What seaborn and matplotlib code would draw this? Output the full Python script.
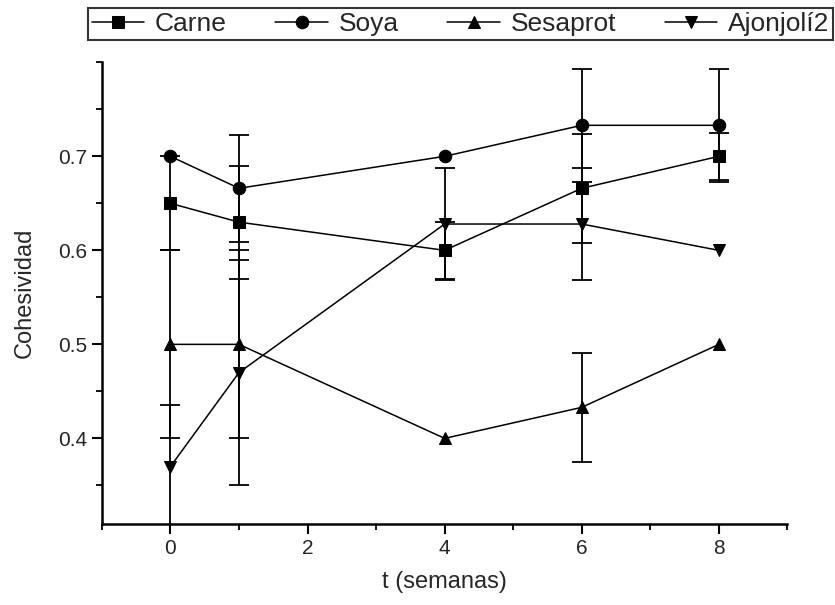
import numpy as np
import pandas as pd
import matplotlib
matplotlib.use('Agg')
import matplotlib.pyplot as plt
from matplotlib.ticker import MultipleLocator
import seaborn as sns

# datos
semanas = [0, 1, 4, 6, 8]
carne = [0.65, 0.63, 0.60, 0.666, 0.70]
carne_err = [0.05, 0.06, 0.03, 0.058, 0.025]
soya = [0.70, 0.666, 0.70, 0.733, 0.733]
soya_err = [0.0, 0.057, 0.0, 0.06, 0.06]
sesaprot = [0.50, 0.50, 0.40, 0.433, 0.50]
sesaprot_err = [0.10, 0.10, 0.0, 0.058, 0.0]
ajonjoli = [0.37, 0.47, 0.628, 0.628, 0.60]
ajonjoli_err = [0.065, 0.12, 0.06, 0.06, 0.0]

series = ['Carne', 'Soya', 'Sesaprot', 'Ajonjolí2']
valores = [carne, soya, sesaprot, ajonjoli]
errores = [carne_err, soya_err, sesaprot_err, ajonjoli_err]
marcadores = {'Carne': 's', 'Soya': 'o', 'Sesaprot': '^', 'Ajonjolí2': 'v'}

df = pd.concat([pd.DataFrame({'t': semanas, 'Cohesividad': v, 'serie': s})
                for s, v in zip(series, valores)], ignore_index=True)

sns.set_style('ticks')
plt.rcParams['font.family'] = ['Liberation Sans Narrow', 'Liberation Sans', 'DejaVu Sans']

fig = plt.figure(figsize=(8.35, 6.05), dpi=100)
ax = fig.add_axes([0.122, 0.134, 0.821, 0.763])

# barras de error (solo donde hay error)
for s, v, e in zip(series, valores, errores):
    idx = [i for i in range(len(e)) if e[i] > 0]
    ax.errorbar([semanas[i] for i in idx], [v[i] for i in idx], yerr=[e[i] for i in idx],
                fmt='none', ecolor='black', elinewidth=1.3, capsize=7, capthick=1.3, zorder=2)

sns.lineplot(data=df, x='t', y='Cohesividad', hue='serie', style='serie',
             palette=['black'] * 4, markers=marcadores, dashes=False,
             markersize=9, markeredgecolor='black', linewidth=1.1, ax=ax, zorder=3)

ax.set_xlim(-1, 9)
ax.set_ylim(0.309, 0.80)
ax.xaxis.set_major_locator(MultipleLocator(2))
ax.xaxis.set_minor_locator(MultipleLocator(1))
ax.set_yticks([0.4, 0.5, 0.6, 0.7])
ax.yaxis.set_minor_locator(MultipleLocator(0.05))
ax.tick_params(axis='both', which='major', length=7, width=1.5, labelsize=15, color='black')
ax.tick_params(axis='both', which='minor', length=4, width=1.3, color='black')
for sp in ['left', 'bottom']:
    ax.spines[sp].set_linewidth(1.8)
    ax.spines[sp].set_color('black')
sns.despine(ax=ax)

ax.set_xlabel('t (semanas)', fontsize=17, labelpad=10)
ax.set_ylabel('Cohesividad', fontsize=17, labelpad=16)

handles, labels = ax.get_legend_handles_labels()
ax.get_legend().remove()
leg = fig.legend(handles, labels, loc='lower left', ncol=4, mode='expand',
                 bbox_to_anchor=(0.105, 0.934, 0.893, 0.061), borderaxespad=0,
                 fancybox=False, frameon=True, fontsize=19, handlelength=2.0,
                 handletextpad=0.4, columnspacing=1.0, borderpad=0.15)
leg.get_frame().set_edgecolor('black')
leg.get_frame().set_linewidth(1.5)

fig.savefig('out.png', dpi=100)
